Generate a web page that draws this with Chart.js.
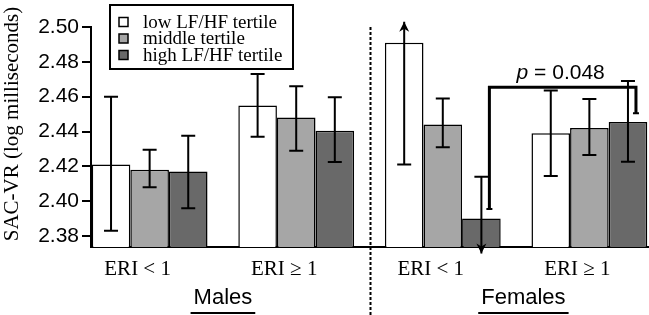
<!DOCTYPE html>
<html>
<head>
<meta charset="utf-8">
<script src="https://cdn.jsdelivr.net/npm/chart.js@4.4.0/dist/chart.umd.min.js"></script>
<style>
  html, body { margin: 0; padding: 0; background: #fff; }
  #wrap { width: 649px; height: 315px; position: relative; }
</style>
</head>
<body>
<div id="wrap"><canvas id="sacvr-chart"></canvas></div>
<script>
// categories along the x axis (males first, then females)
var categories = ["ERI < 1", "ERI \u2265 1", "ERI < 1", "ERI \u2265 1"];
var groupLabels = ["Males", "Females"];
var seriesNames = ["low LF/HF tertile", "middle tertile", "high LF/HF tertile"];
var yTicks = [2.38, 2.40, 2.42, 2.44, 2.46, 2.48, 2.50];

// bar heights (log ms)
var lowTertile = [2.421, 2.455, 2.491, 2.439];
var midTertile = [2.418, 2.448, 2.444, 2.442];
var highTertile = [2.417, 2.4405, 2.390, 2.4455];

// error bar ends
var lowErrLo = [2.383, 2.437, 2.421, 2.4145];
var lowErrHi = [2.460, 2.473, 2.503, 2.4635];
var midErrLo = [2.408, 2.429, 2.431, 2.4265];
var midErrHi = [2.4295, 2.466, 2.459, 2.4587];
var highErrLo = [2.396, 2.4225, 2.370, 2.4227];
var highErrHi = [2.4375, 2.4596, 2.414, 2.469];

// error bars that run off the axis end in an arrow
var lowErrArrow = [null, null, "up", null];
var midErrArrow = [null, null, null, null];
var highErrArrow = [null, null, "down", null];

// significance bracket between the female high tertile bars
var pText = "= 0.048";
var bracketLevel = 2.4654;
var bracketLeftEnd = 2.3955;
var bracketRightEnd = 2.4505;

var fills = ["#ffffff", "#a6a6a6", "#696969"];

function points(vals) {
  return vals.map(function (v, i) { return {x: i, y: v}; });
}

var errors = [
  {lo: lowErrLo, hi: lowErrHi, arrow: lowErrArrow},
  {lo: midErrLo, hi: midErrHi, arrow: midErrArrow},
  {lo: highErrLo, hi: highErrHi, arrow: highErrArrow}
];

function arrowHead(ctx, x, y, dir) {
  ctx.beginPath();
  ctx.moveTo(x, y);
  ctx.lineTo(x - 5, y - dir * 10);
  ctx.lineTo(x, y - dir * 7);
  ctx.lineTo(x + 5, y - dir * 10);
  ctx.closePath();
  ctx.fill();
}

var extras = {
  id: "extras",
  afterDraw: function (chart) {
    var ctx = chart.ctx;
    var ys = chart.scales.y, xs = chart.scales.x;
    var area = chart.chartArea;
    ctx.save();
    ctx.strokeStyle = "#000";
    ctx.fillStyle = "#000";

    // error bars
    errors.forEach(function (e, d) {
      var meta = chart.getDatasetMeta(d);
      meta.data.forEach(function (bar, i) {
        var x = bar.x;
        var top = ys.getPixelForValue(e.hi[i]);
        var bot = ys.getPixelForValue(e.lo[i]);
        ctx.lineWidth = 2;
        ctx.beginPath();
        ctx.moveTo(x, top);
        ctx.lineTo(x, bot);
        if (e.arrow[i] !== "up") { ctx.moveTo(x - 7, top); ctx.lineTo(x + 7, top); }
        if (e.arrow[i] !== "down") { ctx.moveTo(x - 7, bot); ctx.lineTo(x + 7, bot); }
        ctx.stroke();
        if (e.arrow[i] === "up") arrowHead(ctx, x, top, -1);
        if (e.arrow[i] === "down") arrowHead(ctx, x, bot, 1);
      });
    });

    // bracket
    var hiMeta = chart.getDatasetMeta(2);
    var bx1 = hiMeta.data[2].x + 8, bx2 = hiMeta.data[3].x + 8;
    var by = ys.getPixelForValue(bracketLevel);
    ctx.lineWidth = 3;
    ctx.beginPath();
    ctx.moveTo(bx1, ys.getPixelForValue(bracketLeftEnd));
    ctx.lineTo(bx1, by);
    ctx.lineTo(bx2, by);
    ctx.lineTo(bx2, ys.getPixelForValue(bracketRightEnd));
    ctx.stroke();
    ctx.lineWidth = 2;
    ctx.beginPath();
    ctx.moveTo(bx1 - 3, ys.getPixelForValue(bracketLeftEnd));
    ctx.lineTo(bx1 + 3, ys.getPixelForValue(bracketLeftEnd));
    ctx.moveTo(bx2 - 3, ys.getPixelForValue(bracketRightEnd));
    ctx.lineTo(bx2 + 3, ys.getPixelForValue(bracketRightEnd));
    ctx.stroke();

    // p value
    ctx.textBaseline = "alphabetic";
    ctx.textAlign = "left";
    ctx.font = "italic 21px 'Liberation Sans'";
    var pw = ctx.measureText("p ").width;
    ctx.font = "21px 'Liberation Sans'";
    var rw = ctx.measureText(pText).width;
    var px = (bx1 + bx2) / 2 - (pw + rw) / 2 - 2;
    ctx.font = "italic 21px 'Liberation Sans'";
    ctx.fillText("p", px, by - 8);
    ctx.font = "21px 'Liberation Sans'";
    ctx.fillText(pText, px + pw, by - 8);

    // dashed divider between males and females
    var dx = Math.round(xs.getPixelForValue(1.5)) + 0.5;
    ctx.lineWidth = 2;
    ctx.setLineDash([3, 2]);
    ctx.beginPath();
    ctx.moveTo(dx, area.top);
    ctx.lineTo(dx, chart.height);
    ctx.stroke();
    ctx.setLineDash([]);

    // group labels, underlined
    ctx.font = "22px 'Liberation Sans'";
    ctx.textAlign = "center";
    [0.5, 2.55].forEach(function (c, g) {
      var gx = xs.getPixelForValue(c);
      var w = ctx.measureText(groupLabels[g]).width;
      ctx.fillText(groupLabels[g], gx, 304);
      ctx.lineWidth = 2;
      ctx.beginPath();
      ctx.moveTo(gx - w / 2 - 3, 313);
      ctx.lineTo(gx + w / 2 + 3, 313);
      ctx.stroke();
    });

    // y axis title
    ctx.save();
    ctx.translate(12, 124);
    ctx.rotate(-Math.PI / 2);
    ctx.font = "21px 'Liberation Serif'";
    ctx.textBaseline = "middle";
    ctx.fillText("SAC-VR (log milliseconds)", 0, 0);
    ctx.restore();

    // legend box
    ctx.fillStyle = "#fff";
    ctx.fillRect(110, 5, 183, 64);
    ctx.lineWidth = 2;
    ctx.strokeRect(110, 5, 183, 64);
    ctx.font = "19px 'Liberation Serif'";
    ctx.textAlign = "left";
    ctx.textBaseline = "middle";
    chart.data.datasets.forEach(function (ds, d) {
      var ly = 22 + d * 16.5;
      ctx.fillStyle = ds.backgroundColor;
      ctx.fillRect(119, ly - 4.5, 9, 9);
      ctx.lineWidth = 1.5;
      ctx.strokeRect(119, ly - 4.5, 9, 9);
      ctx.fillStyle = "#000";
      ctx.fillText(ds.label, 143, ly + 1);
    });

    ctx.restore();
  }
};

var ctx = document.getElementById("sacvr-chart").getContext("2d");

var chart = new Chart(ctx, {
  type: "bar",
  data: {
    datasets: [lowTertile, midTertile, highTertile].map(function (vals, d) {
      return {
        label: seriesNames[d],
        data: points(vals),
        backgroundColor: fills[d],
        borderColor: "#000",
        borderWidth: 1.5,
        categoryPercentage: 0.79,
        barPercentage: 1
      };
    })
  },
  options: {
    responsive: true,
    maintainAspectRatio: false,
    animation: false,
    layout: { padding: { top: 27, right: 1, bottom: 0, left: 0 } },
    plugins: { legend: { display: false }, tooltip: { enabled: false } },
    scales: {
      x: {
        type: "linear",
        offset: false,
        z: 1,
        min: -0.4,
        max: 3.4,
        afterBuildTicks: function (s) {
          s.ticks = categories.map(function (c, i) { return {value: i}; });
        },
        afterFit: function (s) { s.height = 68; },
        ticks: {
          callback: function (v) { return categories[v]; },
          font: { family: "Liberation Serif", size: 21 },
          color: "#000",
          padding: 2,
          labelOffset: -12,
          autoSkip: false,
          maxRotation: 0
        },
        grid: { display: false, offset: false },
        border: { color: "#000", width: 2 }
      },
      y: {
        min: 2.3737,
        max: 2.50,
        afterBuildTicks: function (s) {
          s.ticks = yTicks.map(function (v) { return {value: v}; });
        },
        afterFit: function (s) { s.width = 91; },
        ticks: {
          callback: function (v) { return v.toFixed(2); },
          font: { family: "Liberation Sans", size: 21 },
          color: "#000",
          padding: 3
        },
        grid: { drawOnChartArea: false, tickLength: 9, color: "#000", lineWidth: 2 },
        border: { color: "#000", width: 2 }
      }
    }
  },
  plugins: [extras]
});
</script>
</body>
</html>
